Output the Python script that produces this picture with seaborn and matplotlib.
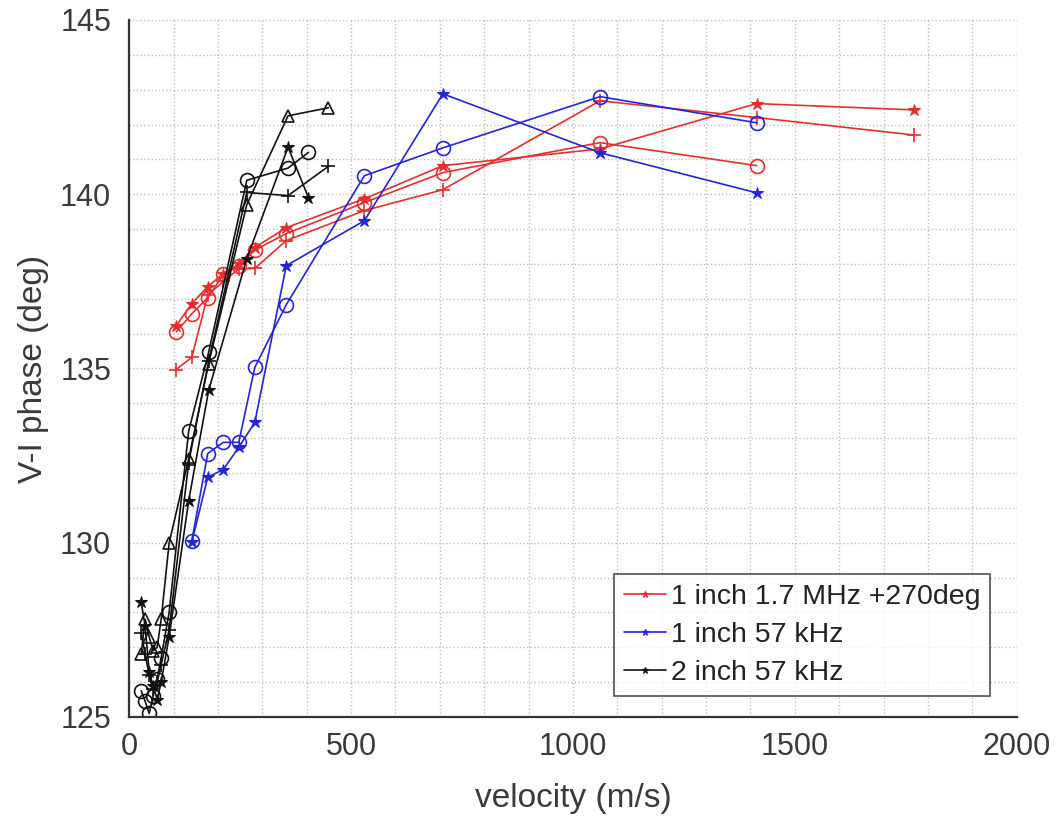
import numpy as np
import pandas as pd
import matplotlib
matplotlib.use("Agg")
import matplotlib.pyplot as plt
import seaborn as sns
from matplotlib.ticker import MultipleLocator

# 1 inch sensor, 1.7 MHz (+270 deg), three runs
v_red = [106, 141, 177, 212, 247, 283, 354, 530, 707, 1061, 1414, 1768]
red_star = [136.23, 136.86, 137.35, 137.72, 138.0, 138.47, 139.04, 139.87, 140.82, 141.3, 142.6, 142.42]
red_circ = [136.05, 136.57, 137.03, 137.7, 137.95, 138.4, 138.87, 139.76, 140.62, 141.48, 140.82]
red_plus = [134.97, 135.32, 137.1, 137.5, 137.85, 137.87, 138.67, 139.53, 140.13, 142.68, 142.2, 141.7]

# 1 inch sensor, 57 kHz, two runs
v_blue = [141, 177, 212, 247, 283, 354, 530, 707, 1061, 1414]
blue_star = [130.01, 131.88, 132.1, 132.74, 133.45, 137.95, 139.24, 142.88, 141.19, 140.04]
blue_circ = [130.05, 132.56, 132.88, 132.88, 135.03, 136.83, 140.53, 141.33, 142.8, 142.05]

# 2 inch sensor, 57 kHz, four runs
v_blk = [27, 36, 45, 54, 63, 72, 90, 134, 179, 265, 358]
blk_circ = [125.75, 125.45, 125.1, 125.6, 126.1, 126.7, 128.0, 133.2, 135.46, 140.4, 140.75]
blk_star = [128.3, 127.6, 126.3, 125.9, 125.5, 126.0, 127.3, 131.2, 134.37, 138.15, 141.35]
blk_plus = [127.4, 126.8, 126.2, 125.8, 126.0, 126.5, 127.5, 132.3, 135.2, 140.05, 139.96]
blk_tri = [126.8, 127.8, 127.3, 126.9, 127.0, 127.8, 129.99, 132.4, 135.14, 139.7, 142.25]
v_blk_end = [404, 404, 449, 449]
blk_end = [141.2, 139.9, 140.8, 142.48]

labels = ["1 inch 1.7 MHz +270deg", "1 inch 57 kHz", "2 inch 57 kHz"]
colors = {labels[0]: "#e62e2e", labels[1]: "#2424d8", labels[2]: "#111111"}

rows = []
def add(sensor, run, vs, ps):
    for v, p in zip(vs, ps):
        rows.append({"velocity": v, "phase": p, "sensor": sensor, "run": run})

add(labels[0], "*", v_red, red_star)
add(labels[0], "o", v_red[:len(red_circ)], red_circ)
add(labels[0], "+", v_red, red_plus)
add(labels[1], "*", v_blue, blue_star)
add(labels[1], "o", v_blue, blue_circ)
add(labels[2], "o", v_blk + [v_blk_end[0]], blk_circ + [blk_end[0]])
add(labels[2], "*", v_blk + [v_blk_end[1]], blk_star + [blk_end[1]])
add(labels[2], "+", v_blk + [v_blk_end[2]], blk_plus + [blk_end[2]])
add(labels[2], "^", v_blk + [v_blk_end[3]], blk_tri + [blk_end[3]])
df = pd.DataFrame(rows)

sns.set_style("white")
plt.rcParams["font.family"] = ["Liberation Sans", "DejaVu Sans"]

fig, ax = plt.subplots(figsize=(10.59, 8.18), dpi=100)
fig.subplots_adjust(left=0.122, right=0.960, bottom=0.1235, top=0.9756)

handles = {}
for (sensor, run), g in df.groupby(["sensor", "run"], sort=False):
    c = colors[sensor]
    kw = dict(marker=run, color=c, linewidth=1.2, markeredgecolor=c)
    if run == "o":
        kw.update(markersize=10, markerfacecolor="none", markeredgewidth=1.2)
    elif run == "^":
        kw.update(markersize=9, markerfacecolor="none", markeredgewidth=1.2)
    elif run == "+":
        kw.update(markersize=10, markeredgewidth=1.2)
    else:
        kw.update(markersize=9, markerfacecolor=c, markeredgewidth=0.8)
    sns.lineplot(data=g, x="velocity", y="phase", sort=False, estimator=None,
                 ax=ax, legend=False, **kw)
    if run == "*":
        handles[sensor] = ax.lines[-1]

ax.set_xlim(0, 2000)
ax.set_ylim(125, 145)
ax.xaxis.set_major_locator(MultipleLocator(500))
ax.yaxis.set_major_locator(MultipleLocator(5))
ax.xaxis.set_minor_locator(MultipleLocator(100))
ax.yaxis.set_minor_locator(MultipleLocator(1))
ax.grid(True, which="both", linestyle=":", color="#bdbdbd", linewidth=1.0)
ax.set_axisbelow(True)
ax.tick_params(which="major", direction="in", length=7, width=1.3,
               labelsize=22, colors="#3a3a3a", pad=13)
ax.tick_params(axis="x", which="major", pad=11)
ax.tick_params(which="minor", length=0)
for s in ["top", "right"]:
    ax.spines[s].set_visible(False)
for s in ["left", "bottom"]:
    ax.spines[s].set_color("#333333")
    ax.spines[s].set_linewidth(1.6)

ax.set_xlabel("velocity (m/s)", fontsize=24, color="#3a3a3a", labelpad=15)
ax.set_ylabel("V-I phase (deg)", fontsize=24, color="#3a3a3a", labelpad=8)

leg = ax.legend([handles[l] for l in labels], labels, loc="lower right",
                bbox_to_anchor=(0.97, 0.03), fontsize=20.5, frameon=True,
                fancybox=False, handlelength=1.5, handletextpad=0.15,
                borderpad=0.35, labelspacing=0.42, markerscale=0.55,
                borderaxespad=0.0)
leg.get_frame().set_edgecolor("#222222")
leg.get_frame().set_linewidth(1.2)
for t in leg.get_texts():
    t.set_color("#222222")

fig.savefig("out.png", dpi=100)
